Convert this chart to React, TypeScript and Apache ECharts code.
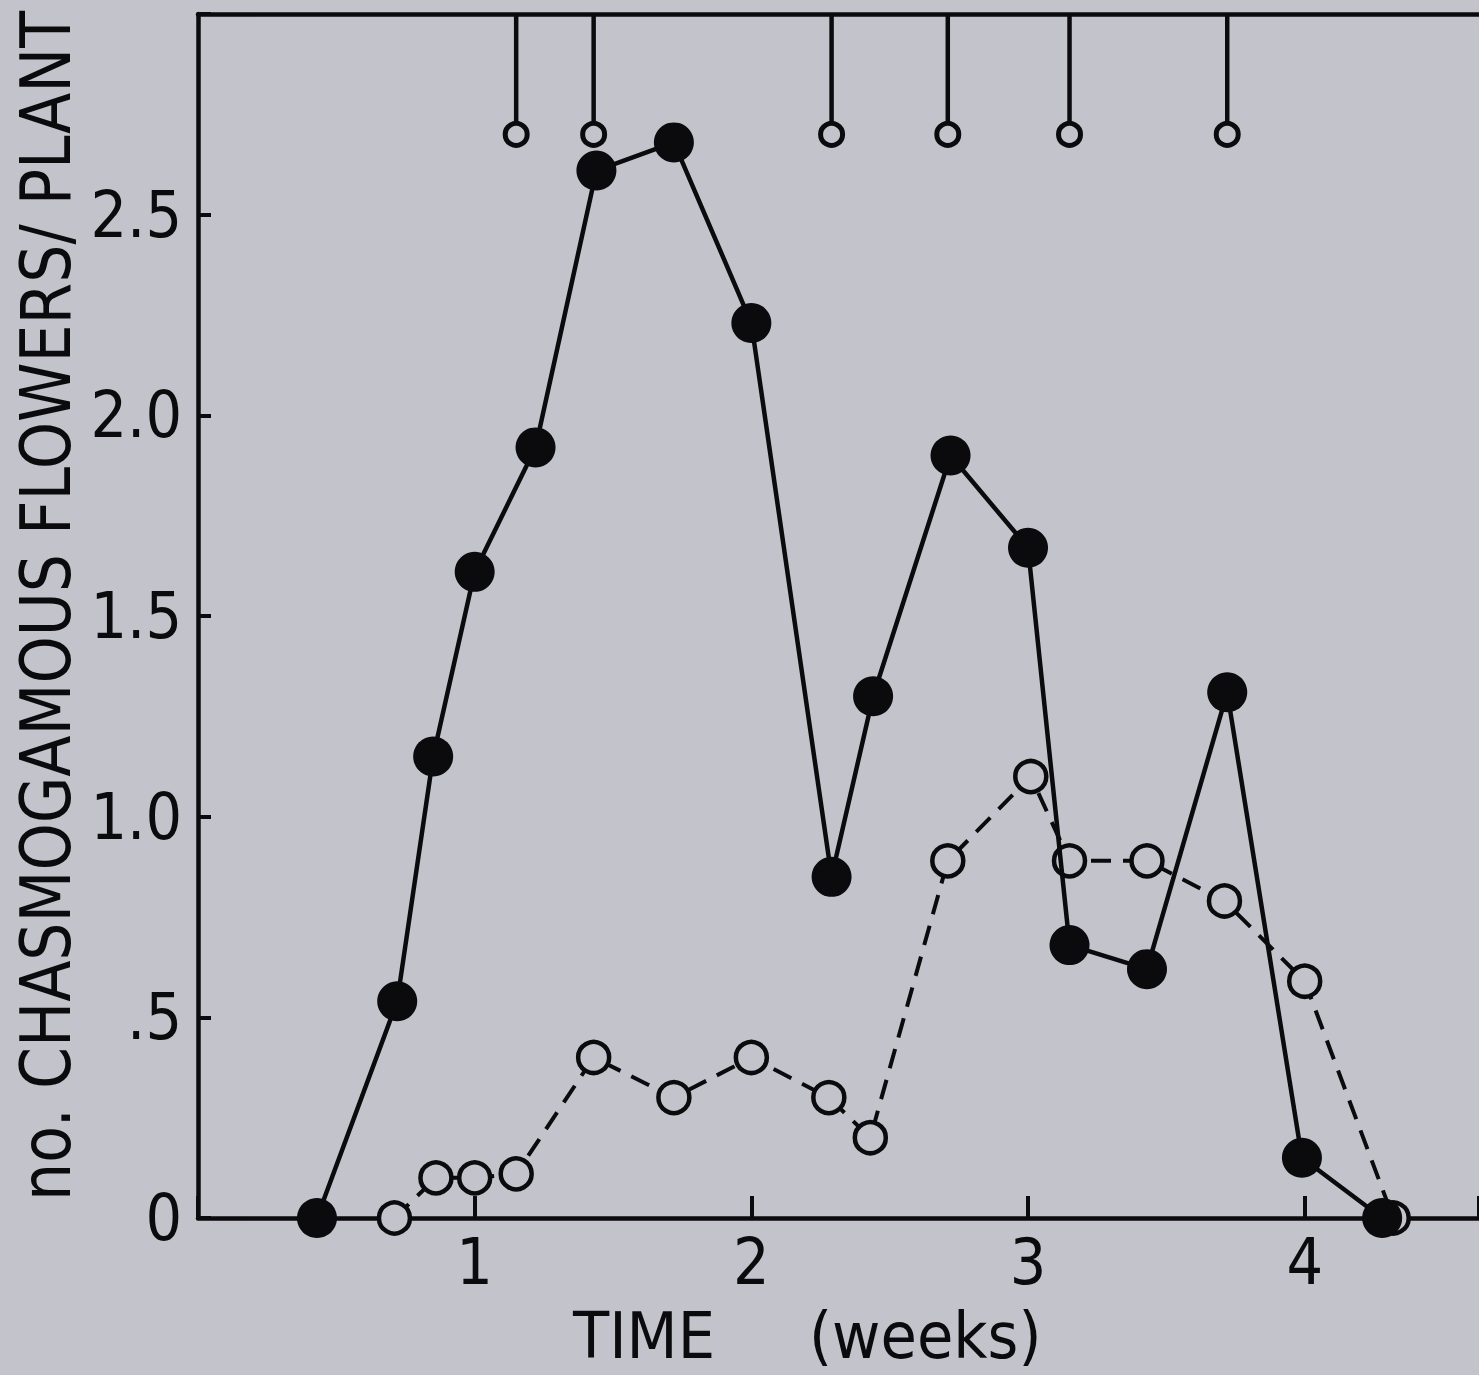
import React, { useEffect, useRef } from 'react';
import * as echarts from 'echarts';

// Filled circles (solid line)
const weeksFilled = [0.43, 0.72, 0.85, 1.0, 1.22, 1.44, 1.72, 2.0, 2.29, 2.44, 2.72, 3.0, 3.15, 3.43, 3.72, 3.99, 4.28];
const filledValues = [0, 0.54, 1.15, 1.61, 1.92, 2.61, 2.68, 2.23, 0.85, 1.3, 1.9, 1.67, 0.68, 0.62, 1.31, 0.15, 0];
// Open circles (dashed line)
const weeksOpen = [0.71, 0.86, 1.0, 1.15, 1.43, 1.72, 2.0, 2.28, 2.43, 2.71, 3.01, 3.15, 3.43, 3.71, 4.0, 4.32];
const openValues = [0, 0.1, 0.1, 0.11, 0.4, 0.3, 0.4, 0.3, 0.2, 0.89, 1.1, 0.89, 0.89, 0.79, 0.59, 0];
// Pin markers hanging from top border
const pinWeeks = [1.15, 1.43, 2.29, 2.71, 3.15, 3.72];
const pinLevel = 2.7;
const pinTop = 3.0;

const yTickLabels = ['0', '.5', '1.0', '1.5', '2.0', '2.5'];
const xTickLabels = ['1', '2', '3', '4'];
const yTitle = 'no. CHASMOGAMOUS FLOWERS/ PLANT';
const xTitle = 'TIME     (weeks)';

const FONT = "'Liberation Sans Narrow', 'DejaVu Sans Condensed', 'Liberation Sans', sans-serif";
const INK = '#0b0b0d';
const BG = '#c3c3cc';

export default function App() {
  const ref = useRef<HTMLDivElement>(null);
  useEffect(() => {
    if (!ref.current) return;
    const chart = echarts.init(ref.current, null, { renderer: 'svg' });
    const X_MAX = 4.63;
    chart.setOption({
      animation: false,
      backgroundColor: BG,
      grid: { left: 198, right: 0, top: 14, bottom: 157, outerBoundsMode: 'none', containLabel: false },
      xAxis: [
        {
          type: 'value', min: 0, max: X_MAX, interval: 1,
          axisLine: { show: true, onZero: false, lineStyle: { color: INK, width: 4.5 } },
          axisTick: { show: true, inside: true, length: 22, lineStyle: { color: INK, width: 4 } },
          axisLabel: {
            show: true, margin: 12, color: INK, fontSize: 64, fontFamily: FONT,
            formatter: (v: number) => xTickLabels[Math.round(v) - 1] ?? '',
          },
          splitLine: { show: false },
        },
        {
          type: 'value', position: 'top', min: 0, max: X_MAX,
          axisLine: { show: true, onZero: false, lineStyle: { color: INK, width: 4.5 } },
          axisTick: { show: false }, axisLabel: { show: false }, splitLine: { show: false },
        },
      ],
      yAxis: {
        type: 'value', min: 0, max: 3, interval: 0.5,
        axisLine: { show: true, onZero: false, lineStyle: { color: INK, width: 4.5 } },
        axisTick: { show: true, inside: true, length: 13, lineStyle: { color: INK, width: 4 } },
        axisLabel: {
          show: true, margin: 16, color: INK, fontSize: 64, fontFamily: FONT,
          formatter: (v: number) => yTickLabels[Math.round(v / 0.5)] ?? '',
        },
        splitLine: { show: false },
      },
      graphic: [
        {
          type: 'text', x: 45, y: 606, rotation: Math.PI / 2, scaleX: 0.955, scaleY: 1,
          style: {
            text: yTitle, fontSize: 70, fontFamily: FONT, fill: INK,
            align: 'center', verticalAlign: 'middle', textAlign: 'center', textVerticalAlign: 'middle',
          },
        },
        {
          type: 'text', x: 573, y: 1336, scaleX: 1.028, scaleY: 1,
          style: {
            text: xTitle, fontSize: 64, fontFamily: FONT, fill: INK,
            align: 'left', verticalAlign: 'middle', textAlign: 'left', textVerticalAlign: 'middle',
          },
        },
      ],
      series: [
        {
          type: 'line', xAxisIndex: 0,
          data: weeksOpen.map((w, i) => [w, openValues[i]]),
          symbol: 'circle', symbolSize: 31,
          lineStyle: { color: INK, width: 4, type: [20, 12] },
          itemStyle: { color: BG, borderColor: INK, borderWidth: 4.5 },
          z: 2,
        },
        {
          type: 'line', xAxisIndex: 0,
          data: weeksFilled.map((w, i) => [w, filledValues[i]]),
          symbol: 'circle', symbolSize: 40,
          lineStyle: { color: INK, width: 4.5 },
          itemStyle: { color: INK, borderColor: INK, borderWidth: 0 },
          z: 3,
        },
        {
          type: 'custom', xAxisIndex: 0,
          data: pinWeeks.map((w) => [w, pinLevel]),
          renderItem: (_params: any, api: any) => {
            const x = api.value(0);
            const top = api.coord([x, pinTop]);
            const c = api.coord([x, api.value(1)]);
            const r = 11;
            return {
              type: 'group',
              children: [
                { type: 'line', shape: { x1: top[0], y1: top[1], x2: c[0], y2: c[1] - r }, style: { stroke: INK, lineWidth: 4.5 } },
                { type: 'circle', shape: { cx: c[0], cy: c[1], r }, style: { fill: 'none', stroke: INK, lineWidth: 5 } },
              ],
            };
          },
          z: 4,
        },
      ],
    });
    return () => chart.dispose();
  }, []);
  return (
    <div
      ref={ref}
      style={{ position: 'absolute', left: 0, top: 0, width: 1479, height: 1375, background: BG }}
    />
  );
}
